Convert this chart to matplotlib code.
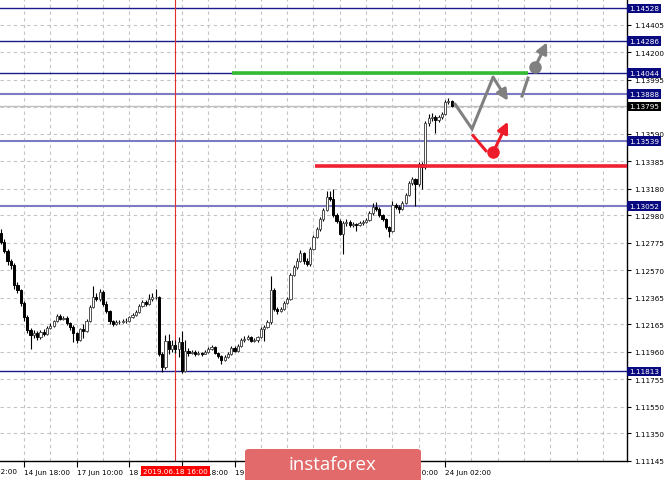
import matplotlib
matplotlib.use('Agg')
import matplotlib.pyplot as plt
from matplotlib.patches import FancyBboxPatch
import numpy as np

# EURUSD H1, bars from 14 Jun 11:00 to 24 Jun 04:00 (index 0..137)
first_open = 1.12850
closes = [1.12781, 1.12714, 1.12639, 1.12609, 1.12460, 1.12422, 1.12325, 1.12220, 1.12123, 1.12086,
          1.12101, 1.12071, 1.12108, 1.12093, 1.12138, 1.12153, 1.12190, 1.12228, 1.12205, 1.12213,
          1.12175, 1.12146, 1.12101, 1.12048, 1.12131, 1.12116, 1.12190, 1.12295, 1.12370, 1.12355,
          1.12407, 1.12318, 1.12265, 1.12190, 1.12168, 1.12183, 1.12183, 1.12190, 1.12190, 1.12220,
          1.12235, 1.12258, 1.12303, 1.12333, 1.12318, 1.12355, 1.12370, 1.12370, 1.11944, 1.11846,
          1.12041, 1.11981, 1.12011, 1.11981, 1.12033, 1.11816, 1.11966, 1.11951, 1.11959, 1.11944,
          1.11951, 1.11944, 1.11959, 1.11981, 1.11996, 1.11951, 1.11929, 1.11899, 1.11921, 1.11944,
          1.11989, 1.11966, 1.12003, 1.12048, 1.12056, 1.12071, 1.12041, 1.12048, 1.12071, 1.12131,
          1.12146, 1.12183, 1.12422, 1.12280, 1.12265, 1.12280, 1.12325, 1.12355, 1.12535, 1.12594,
          1.12639, 1.12699, 1.12639, 1.12617, 1.12729, 1.12819, 1.12879, 1.12953, 1.13021, 1.13118,
          1.13103, 1.12983, 1.12938, 1.12841, 1.12924, 1.12931, 1.12909, 1.12916, 1.12909, 1.12924,
          1.12931, 1.12946, 1.12998, 1.13043, 1.13028, 1.12983, 1.12953, 1.12894, 1.12864, 1.13058,
          1.13043, 1.13028, 1.13073, 1.13133, 1.13223, 1.13253, 1.13215, 1.13365, 1.13342, 1.13671,
          1.13709, 1.13716, 1.13694, 1.13716, 1.13739, 1.13829, 1.13836, 1.13795]
highs = [1.12880, 1.12800, 1.12730, 1.12655, 1.12625, 1.12480, 1.12430, 1.12340, 1.12235, 1.12140,
         1.12125, 1.12115, 1.12125, 1.12130, 1.12155, 1.12175, 1.12200, 1.12240, 1.12245, 1.12230,
         1.12225, 1.12185, 1.12160, 1.12110, 1.12140, 1.12165, 1.12205, 1.12310, 1.12450, 1.12400,
         1.12430, 1.12420, 1.12340, 1.12275, 1.12200, 1.12195, 1.12200, 1.12205, 1.12210, 1.12230,
         1.12250, 1.12270, 1.12315, 1.12345, 1.12350, 1.12395, 1.12400, 1.12430, 1.12380, 1.11960,
         1.12085, 1.12090, 1.12045, 1.12045, 1.12070, 1.12115, 1.12050, 1.11990, 1.11975, 1.11970,
         1.11965, 1.11960, 1.11970, 1.11995, 1.12010, 1.12000, 1.11960, 1.11935, 1.11935, 1.11955,
         1.12000, 1.12000, 1.12015, 1.12060, 1.12075, 1.12085, 1.12080, 1.12060, 1.12080, 1.12145,
         1.12160, 1.12195, 1.12530, 1.12440, 1.12295, 1.12295, 1.12340, 1.12370, 1.12550, 1.12610,
         1.12660, 1.12720, 1.12710, 1.12660, 1.12745, 1.12835, 1.12895, 1.12965, 1.13035, 1.13160,
         1.13165, 1.13175, 1.12995, 1.12950, 1.12935, 1.12950, 1.12945, 1.12930, 1.12925, 1.12935,
         1.12945, 1.12960, 1.13010, 1.13070, 1.13080, 1.13040, 1.12990, 1.12960, 1.12900, 1.13090,
         1.13070, 1.13060, 1.13085, 1.13145, 1.13240, 1.13270, 1.13260, 1.13380, 1.13380, 1.13690,
         1.13740, 1.13745, 1.13730, 1.13730, 1.13750, 1.13845, 1.13855, 1.13840]
lows = [1.12766, 1.12700, 1.12610, 1.12580, 1.12430, 1.12400, 1.12300, 1.12190, 1.12100, 1.11980,
        1.12060, 1.12050, 1.12055, 1.12080, 1.12085, 1.12130, 1.12145, 1.12185, 1.12195, 1.12195,
        1.12160, 1.12125, 1.12030, 1.12025, 1.12040, 1.12060, 1.12110, 1.12180, 1.12285, 1.12340,
        1.12340, 1.12305, 1.12250, 1.12170, 1.12155, 1.12160, 1.12170, 1.12175, 1.12175, 1.12180,
        1.12210, 1.12230, 1.12250, 1.12295, 1.12305, 1.12310, 1.12340, 1.12355, 1.11925, 1.11810,
        1.11830, 1.11940, 1.11960, 1.11950, 1.11920, 1.11805, 1.11810, 1.11925, 1.11940, 1.11930,
        1.11935, 1.11930, 1.11940, 1.11950, 1.11975, 1.11940, 1.11915, 1.11870, 1.11890, 1.11910,
        1.11935, 1.11955, 1.11960, 1.11995, 1.12035, 1.12045, 1.12030, 1.12030, 1.12035, 1.12060,
        1.12040, 1.12140, 1.12170, 1.12265, 1.12245, 1.12255, 1.12270, 1.12315, 1.12345, 1.12525,
        1.12580, 1.12630, 1.12620, 1.12600, 1.12605, 1.12720, 1.12810, 1.12860, 1.12940, 1.13010,
        1.13085, 1.12970, 1.12920, 1.12830, 1.12690, 1.12900, 1.12895, 1.12895, 1.12860, 1.12900,
        1.12910, 1.12920, 1.12940, 1.12985, 1.13015, 1.12970, 1.12940, 1.12880, 1.12820, 1.12855,
        1.13025, 1.13000, 1.13020, 1.13065, 1.13125, 1.13210, 1.13050, 1.13200, 1.13180, 1.13330,
        1.13650, 1.13690, 1.13600, 1.13680, 1.13700, 1.13730, 1.13810, 1.13790]

tick_pos = [7, 23, 39, 55, 71, 87, 103, 119, 135]
# labels at 87 and 103 sit fully under the watermark in the reference
tick_text = ['14 Jun 18:00', '17 Jun 10:00', '18 Jun 02:00', '18 Jun 18:00', '19 Jun 10:00',
             '', '', '21 Jun 10:00', '24 Jun 02:00']
cursor_bar = 53
cursor_text = '2019.06.18 16:00'

price_ticks = [1.14405, 1.14200, 1.13995, 1.13790, 1.13590, 1.13385, 1.13180, 1.12980, 1.12775,
               1.12570, 1.12365, 1.12165, 1.11960, 1.11755, 1.11550, 1.11350, 1.11145]
hidden_ticks = [1.13790]  # covered by the current price label
levels_dark = [1.14528, 1.14286, 1.14044, 1.11813]
levels_light = [1.13888, 1.13539, 1.13052]
current_price = 1.13795
green_level = 1.14044
green_from, green_to = 70.2, 160.2
red_level = 1.13348
red_from = 95.5

# forecast sketch (bar index, price)
gray_k = [138.0, 143.2, 149.6]
gray_p = [1.13814, 1.13627, 1.14014]
gray_tip = (154.1, 1.13838)
gray2_k = [158.4, 160.2]
gray2_p = [1.13873, 1.14008]
gray_dot = (162.3, 1.14088)
gray_dot_tip = (166.0, 1.14275)
red_k = [143.5, 147.4]
red_p = [1.13577, 1.13464]
red_dot = (149.6, 1.13452)
red_dot_tip = (154.1, 1.13681)

fig = plt.figure(figsize=(6.65, 4.81), dpi=100)
ax = fig.add_axes([0, 19 / 481, 627 / 665, 462 / 481])
ax.set_xlim(-0.295, 190.3)
ax.set_ylim(1.11143, 1.14599)

for s in ['top', 'left']:
    ax.spines[s].set_visible(False)
ax.spines['right'].set_linewidth(1)
ax.spines['bottom'].set_linewidth(1)

grid_kw = dict(color='#c4c4c4', lw=0.8, ls=(0, (3, 3)), zorder=0)
for p in price_ticks:
    ax.axhline(p, **grid_kw)
for k in np.arange(-1, 191, 8):
    ax.axvline(k, **grid_kw)

for lv in levels_dark:
    ax.axhline(lv, color='#1a1a8c', lw=1.0, zorder=1)
for lv in levels_light:
    ax.axhline(lv, color='#7c7cc4', lw=1.5, zorder=1)
ax.axhline(current_price, color='#c0c0c0', lw=1.0, zorder=1)
ax.axvline(cursor_bar, color='#e03030', lw=0.8, zorder=1)

# candles
opens = [first_open] + closes[:-1]
idx = np.arange(len(closes))
o = np.array(opens)
c = np.array(closes)
up = c >= o
ax.vlines(idx, lows, highs, color='black', lw=0.8, zorder=3)
bottom = np.minimum(o, c)
height = np.maximum(np.abs(c - o), 0.00003)
ax.bar(idx[up], height[up], bottom=bottom[up], width=0.66, color='white',
       edgecolor='#505050', linewidth=0.7, zorder=4)
ax.bar(idx[~up], height[~up], bottom=bottom[~up], width=0.66, color='black',
       edgecolor='black', linewidth=0.7, zorder=4)

# drawn levels
ax.plot([green_from, green_to], [green_level, green_level], color='#33bb33', lw=2.6,
        solid_capstyle='butt', zorder=5)
ax.plot([red_from, 190.3], [red_level, red_level], color='#ee2233', lw=2.6,
        solid_capstyle='butt', zorder=5)

# forecast arrows
gray = '#808080'
redc = '#ee1c2a'
ax.plot(gray_k, gray_p, color=gray, lw=2.2, zorder=6, solid_capstyle='round', solid_joinstyle='miter')
ax.annotate('', xy=gray_tip, xytext=(gray_k[-1], gray_p[-1]),
            arrowprops=dict(arrowstyle='-|>', color=gray, lw=2.2, mutation_scale=16,
                            shrinkA=0, shrinkB=0), zorder=6)
ax.plot(gray2_k, gray2_p, color=gray, lw=2.2, zorder=6)
ax.plot(*gray_dot, 'o', color=gray, ms=8, zorder=6)
ax.annotate('', xy=gray_dot_tip, xytext=gray_dot,
            arrowprops=dict(arrowstyle='-|>', color=gray, lw=2.2, mutation_scale=16,
                            shrinkA=0, shrinkB=0), zorder=6)
ax.plot(red_k, red_p, color=redc, lw=2.2, zorder=6)
ax.plot(*red_dot, 'o', color=redc, ms=8, zorder=6)
ax.annotate('', xy=red_dot_tip, xytext=red_dot,
            arrowprops=dict(arrowstyle='-|>', color=redc, lw=2.2, mutation_scale=16,
                            shrinkA=0, shrinkB=0), zorder=6)

# axes ticks
fs = 5.2
ax.yaxis.tick_right()
ax.set_yticks(price_ticks)
ax.set_yticklabels(['' if p in hidden_ticks else '%.5f' % p for p in price_ticks])
ax.tick_params(axis='y', labelsize=fs, length=3, width=0.8, pad=2, colors='black')
ax.set_xticks(tick_pos)
ax.set_xticklabels(tick_text, ha='left')
ax.tick_params(axis='x', labelsize=fs, length=4, width=0.8, pad=2, direction='out')
ax.text(-9, -0.022, '14 Jun 02:00', transform=ax.get_xaxis_transform(), ha='left',
        va='center', fontsize=fs, clip_on=False)

ytr = ax.get_yaxis_transform()
for lv in levels_dark + levels_light:
    ax.text(1.003, lv, '%.5f' % lv, transform=ytr, fontsize=fs, color='white', va='center',
            ha='left', clip_on=False, zorder=10,
            bbox=dict(boxstyle='square,pad=0.25', fc='#0a0a80', ec='none'))
ax.text(1.003, current_price, '%.5f' % current_price, transform=ytr, fontsize=fs, color='white',
        va='center', ha='left', clip_on=False, zorder=10,
        bbox=dict(boxstyle='square,pad=0.25', fc='black', ec='none'))

ax.text(cursor_bar, -0.022, cursor_text, transform=ax.get_xaxis_transform(), ha='center',
        va='center', fontsize=fs, color='white', clip_on=False, zorder=10,
        bbox=dict(boxstyle='square,pad=0.3', fc='#ff0000', ec='none'))

# watermark
fig.patches.append(FancyBboxPatch((245 / 665, -0.02), 176 / 665, 31 / 481 + 0.02,
                                  boxstyle='round,pad=0,rounding_size=0.006',
                                  transform=fig.transFigure, fc='#e26a6a', ec='none', zorder=20))
fig.text(332 / 665, 1 - 465 / 481, 'instaforex', ha='center', va='center', color='white',
         fontsize=13.5, family='Open Sans', zorder=21)

fig.savefig('out.png', dpi=100, facecolor='white')
